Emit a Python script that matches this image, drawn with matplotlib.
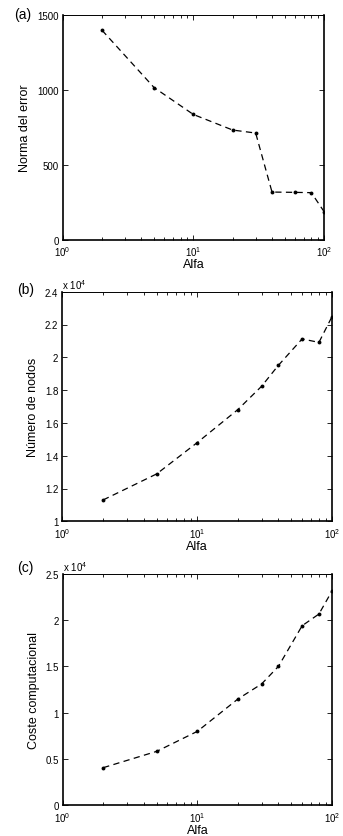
import numpy as np
import matplotlib.pyplot as plt
from matplotlib.ticker import LogLocator, FixedLocator, NullFormatter

plt.rcParams['font.family'] = ['Liberation Sans', 'DejaVu Sans']
plt.rcParams['mathtext.fontset'] = 'custom'
plt.rcParams['mathtext.rm'] = 'Liberation Sans'

alfa = np.array([2, 5, 10, 20, 30, 40, 60, 80, 100])
norma_error = np.array([1398, 1016, 836, 732, 712, 318, 316, 314, 188])
num_nodos = np.array([11300, 12890, 14800, 16810, 18230, 19510, 21120, 20910, 22480])
coste = np.array([4040, 5810, 7970, 11470, 13100, 15000, 19400, 20670, 23160])

panels = [
    ("(a)", norma_error, 1.0, "Norma del error", [0, 500, 1000, 1500], ["0", "500", "1000", "1500"], (0, 1500)),
    ("(b)", num_nodos, 1e4, "Número de nodos", [1, 1.2, 1.4, 1.6, 1.8, 2, 2.2, 2.4],
     ["1", "1.2", "1.4", "1.6", "1.8", "2", "2.2", "2.4"], (1, 2.4)),
    ("(c)", coste, 1e4, "Coste computacional", [0, 0.5, 1, 1.5, 2, 2.5],
     ["0", "0.5", "1", "1.5", "2", "2.5"], (0, 2.5)),
]

# axes boxes in pixels: left, right, top, bottom
boxes = [(62.7, 324, 16, 240.7), (62.5, 332, 292.7, 522.3), (62.7, 332, 575, 806)]
# panel tag centres in pixels
tags_xy = [(23, 15), (26, 290), (25, 568)]

W, H = 343, 837
fig = plt.figure(figsize=(W / 100, H / 100), dpi=100)

for (tag, vals, scale, ylabel, yt, ytl, ylim), (l, r, t, b), (tx, ty) in zip(panels, boxes, tags_xy):
    ax = fig.add_axes([l / W, 1 - b / H, (r - l) / W, (b - t) / H])
    ax.plot(alfa, vals / scale, color='black', linestyle=(0, (5, 3.5)), linewidth=0.9,
            marker='o', markersize=2.8, markeredgewidth=0)
    ax.set_xscale('log')
    ax.set_xlim(1, 100)
    ax.set_ylim(*ylim)
    ax.xaxis.set_major_locator(FixedLocator([1, 10, 100]))
    ax.set_xticklabels(["$10^0$", "$10^1$", "$10^2$"])
    ax.xaxis.set_minor_locator(LogLocator(base=10, subs=np.arange(2, 10)))
    ax.xaxis.set_minor_formatter(NullFormatter())
    ax.set_yticks(yt)
    ax.set_yticklabels(ytl)
    ax.tick_params(which='both', direction='in', top=True, right=True, labelsize=7, width=0.6)
    ax.tick_params(axis='x', which='major', pad=3.5)
    ax.tick_params(axis='y', which='major', pad=3)
    ax.tick_params(which='major', length=3.5)
    ax.tick_params(which='minor', length=2)
    ax.set_xlabel("Alfa", fontsize=9, labelpad=0)
    ax.set_ylabel(ylabel, fontsize=9, labelpad=4)
    for side in ['left', 'bottom', 'right']:
        ax.spines[side].set_linewidth(1.2)
    ax.spines['top'].set_linewidth(0.7)
    fig.text(tx / W, 1 - ty / H, tag, fontsize=10, ha='center', va='center')
    if scale != 1.0:
        ax.text(0.0, 1.005, "x $10^4$", transform=ax.transAxes, fontsize=7, ha='left', va='bottom')

fig.savefig("out.png", dpi=100)
